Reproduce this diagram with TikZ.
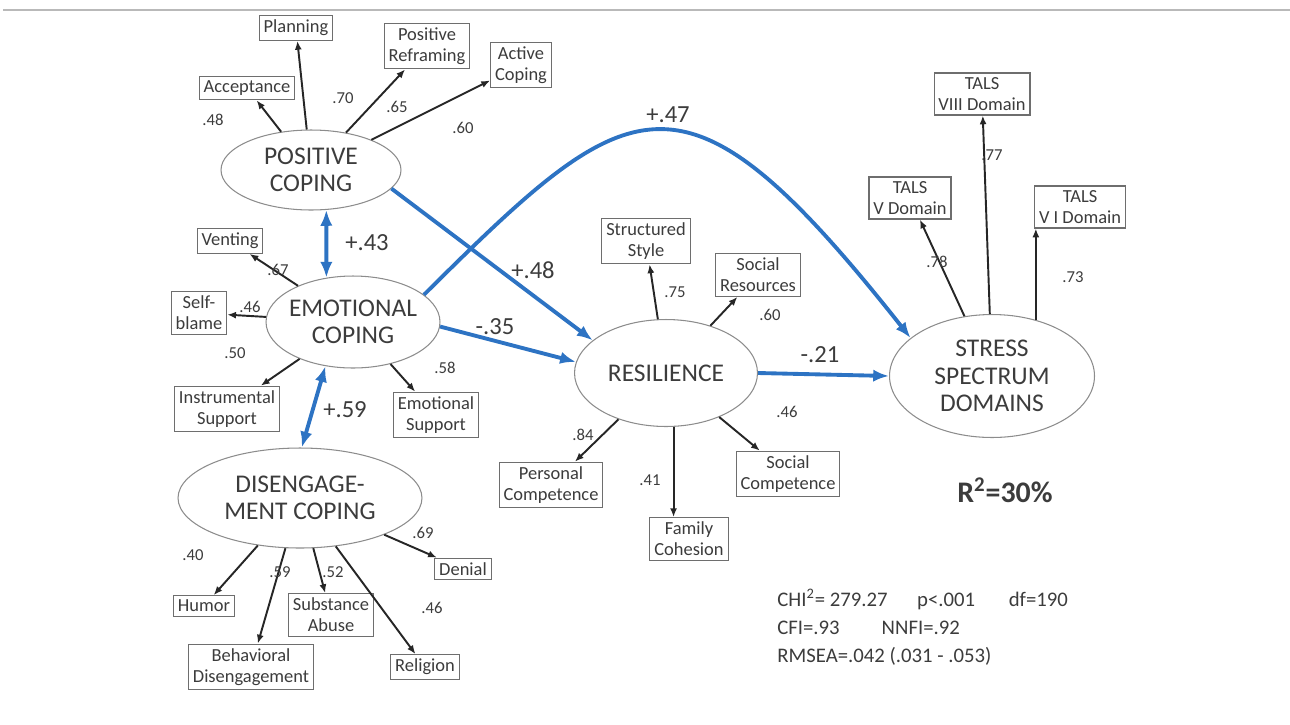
\documentclass[tikz,border=0pt]{standalone}
\usepackage{fontspec}
\setmainfont{Carlito}
\usetikzlibrary{arrows.meta,shapes.geometric}
\definecolor{semblue}{RGB}{45,115,195}
\definecolor{inkgray}{RGB}{60,60,60}
\definecolor{rimgray}{RGB}{140,140,140}
\definecolor{boxgray}{RGB}{110,110,110}

\begin{document}
\begin{tikzpicture}[x=0.02cm,y=-0.02cm,
    every node/.style={text=inkgray},
    latent/.style={ellipse,draw=rimgray,line width=0.6pt,inner sep=0pt,align=center,
      font=\fontsize{14.5}{15.5}\selectfont},
    ind/.style={draw=boxgray,line width=0.6pt,fill=white,inner sep=2.5pt,align=center,
      font=\fontsize{10.5}{12}\selectfont},
    loadlbl/.style={font=\fontsize{9.5}{10}\selectfont},
    coeflbl/.style={font=\fontsize{14}{16}\selectfont},
    loadarr/.style={line width=1.1pt,draw=black!85,-{Latex[length=5pt,width=4pt]}},
    path/.style={line width=2.2pt,draw=semblue,-{Latex[length=9pt,width=7pt]}},
    corr/.style={line width=2.2pt,draw=semblue,{Latex[length=9pt,width=7pt]}-{Latex[length=9pt,width=7pt]}}]

    \useasboundingbox (0,0) rectangle (1290,724);
    \draw[gray!55,line width=1.2pt] (3,10) -- (1290,10);

    % Latent variables
    \node[latent,minimum width=3.6cm,minimum height=1.6cm]  (pos) at (311,170) {POSITIVE\\COPING};
    \node[latent,inner xsep=-6pt,minimum width=3.48cm,minimum height=1.84cm] (emo) at (353,322) {EMOTIONAL\\COPING};
    \node[latent,minimum width=4.88cm,minimum height=2cm]   (dis) at (300,498) {DISENGAGE-\\MENT COPING};
    \node[latent,minimum width=3.66cm,minimum height=2.14cm] (res) at (666,373) {RESILIENCE};
    \node[latent,minimum width=4.1cm,minimum height=2.46cm] (str) at (992,376) {STRESS\\SPECTRUM\\DOMAINS};

    % Indicators
    \node[ind] (plan)   at (296,28)  {Planning};
    \node[ind] (posref) at (427,46)  {Positive\\Reframing};
    \node[ind] (actcop) at (521,65)  {Active\\Coping};
    \node[ind] (accept) at (247,88)  {Acceptance};
    \node[ind] (vent)   at (230,241) {Venting};
    \node[ind] (selfb)  at (199,313) {Self-\\blame};
    \node[ind] (instr)  at (227,409) {Instrumental\\Support};
    \node[ind] (emosup) at (436,415) {Emotional\\Support};
    \node[ind] (humor)  at (204,606) {Humor};
    \node[ind] (behav)  at (251,667) {Behavioral\\Disengagement};
    \node[ind] (subst)  at (331,615) {Substance\\Abuse};
    \node[ind] (denial) at (463,569) {Denial};
    \node[ind] (relig)  at (425,667) {Religion};
    \node[ind] (struct) at (646,241) {Structured\\Style};
    \node[ind] (socres) at (758,275) {Social\\Resources};
    \node[ind] (perscomp) at (551,485) {Personal\\Competence};
    \node[ind] (famcoh) at (689,539) {Family\\Cohesion};
    \node[ind] (soccomp) at (788,474) {Social\\Competence};
    \node[ind] (talsviii) at (982,94) {TALS\\VIII Domain};
    \node[ind] (talsv)  at (910,198) {TALS\\V Domain};
    \node[ind] (talsvi) at (1080,207) {TALS\\V I Domain};

    % Measurement arrows
    \foreach \u/\v in {pos/plan,pos/posref,pos/actcop,pos/accept,
                       emo/vent,emo/selfb,emo/instr,emo/emosup,
                       dis/humor,dis/behav,dis/subst,dis/denial,dis/relig,
                       res/struct,res/socres,res/perscomp,res/soccomp,
                       str/talsviii,str/talsv} {
      \draw[loadarr] (\u) -- (\v);
    }
    \draw[loadarr] (res.-82) -- (res.-82 |- famcoh.north);
    \draw[loadarr] (str.52) -- (str.52 |- talsvi.south);

    % Loadings
    \node[loadlbl] (lacc)  at (213,120) {.48};
    \node[loadlbl] (lplan) at (343,98)  {.70};
    \node[loadlbl] (lref)  at (397,107) {.65};
    \node[loadlbl] (lact)  at (463,128) {.60};
    \node[loadlbl] (lvent) at (278,270) {.67};
    \node[loadlbl] (lself) at (250,307) {.46};
    \node[loadlbl] (linst) at (235,353) {.50};
    \node[loadlbl] (lesup) at (445,368) {.58};
    \node[loadlbl] (lhum)  at (193,555) {.40};
    \node[loadlbl] (lbeh)  at (280,572) {.59};
    \node[loadlbl] (lsub)  at (333,572) {.52};
    \node[loadlbl] (lden)  at (423,533) {.69};
    \node[loadlbl] (lrel)  at (432,608) {.46};
    \node[loadlbl] (lstr)  at (675,292) {.75};
    \node[loadlbl] (lsres) at (770,315) {.60};
    \node[loadlbl] (lpers) at (583,435) {.84};
    \node[loadlbl] (lfam)  at (650,480) {.41};
    \node[loadlbl] (lscom) at (787,412) {.46};
    \node[loadlbl] (lviii) at (992,155) {.77};
    \node[loadlbl] (lv)    at (937,262) {.78};
    \node[loadlbl] (lvi)   at (1073,277) {.73};

    % Structural paths
    \draw[corr] (pos.-69) -- (emo.121);
    \draw[corr] (emo.-122) -- (dis.88);
    \draw[path] (pos.-13) -- (res.156);
    \draw[path] (emo.-3) -- (res.173);
    \draw[path] (res.east) -- (str.west);
    \draw[path] (emo.21) .. controls (633,87) and (683,50) .. (str.155);

    \node[coeflbl] (c43) at (367,243) {+.43};
    \node[coeflbl] (c59) at (345,410) {+.59};
    \node[coeflbl] (c48) at (533,270) {+.48};
    \node[coeflbl] (c35) at (495,327) {-.35};
    \node[coeflbl] (c21) at (820,355) {-.21};
    \node[coeflbl] (c47) at (668,115) {+.47};

    % Fit
    \node[font=\fontsize{17}{20}\selectfont\bfseries] (rsq) at (1005,490) {R\textsuperscript{2}=30\%};
    \node[anchor=north west,align=left,inner sep=0pt,font=\fontsize{11.8}{16}\selectfont] (fit) at (777,589)
      {CHI\textsuperscript{2}= 279.27\hspace{1.2em} p<.001\hspace{1.4em} df=190\\
       CFI=.93\hspace{1.8em} NNFI=.92\\
       RMSEA=.042 (.031 - .053)};

  \end{tikzpicture}
\end{document}
